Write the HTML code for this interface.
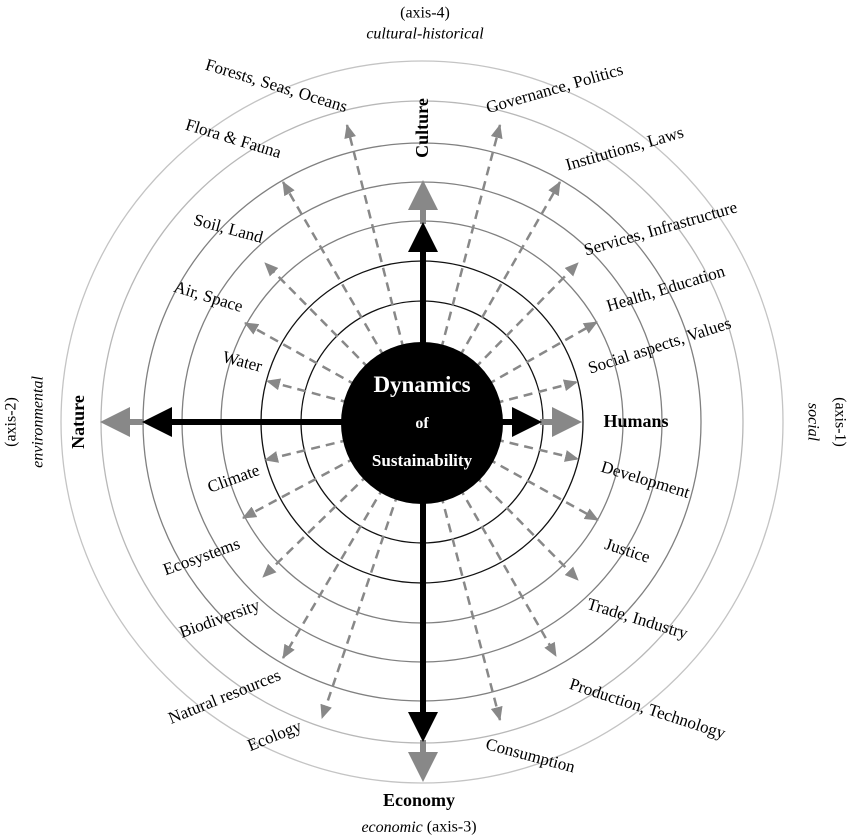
<!DOCTYPE html>
<html><head><meta charset="utf-8"><style>
html,body{margin:0;padding:0;background:#fff;}
svg{display:block;font-family:"Liberation Serif",serif;}
</style></head><body>
<svg width="850" height="840" viewBox="0 0 850 840" xmlns="http://www.w3.org/2000/svg">
<defs>
<marker id="g" markerWidth="14" markerHeight="12" refX="13" refY="6" orient="auto" markerUnits="userSpaceOnUse">
<path d="M0,0 L14,6 L0,12 Z" fill="#888"/>
</marker>
</defs>
<g fill="none" stroke-width="1.3">
<circle cx="422" cy="422" r="361" stroke="#c4c4c4"/>
<circle cx="422" cy="422" r="321" stroke="#b8b8b8"/>
<circle cx="422" cy="422" r="279" stroke="#808080"/>
<circle cx="422" cy="422" r="240" stroke="#808080"/>
<circle cx="422" cy="422" r="201" stroke="#808080"/>
<circle cx="422" cy="422" r="161" stroke="#111"/>
<circle cx="422" cy="422" r="121" stroke="#111"/>
</g>
<g stroke="#888" stroke-width="2.5" stroke-dasharray="9,6" marker-end="url(#g)">
<line x1="422" y1="422" x2="347" y2="125"/>
<line x1="422" y1="422" x2="283" y2="182"/>
<line x1="422" y1="422" x2="265" y2="263"/>
<line x1="422" y1="422" x2="245" y2="323"/>
<line x1="422" y1="422" x2="267" y2="381"/>
<line x1="422" y1="422" x2="500" y2="125"/>
<line x1="422" y1="422" x2="560" y2="182"/>
<line x1="422" y1="422" x2="578" y2="263"/>
<line x1="422" y1="422" x2="597" y2="322"/>
<line x1="422" y1="422" x2="577" y2="382"/>
<line x1="422" y1="422" x2="578" y2="459"/>
<line x1="422" y1="422" x2="598" y2="520"/>
<line x1="422" y1="422" x2="578" y2="580"/>
<line x1="422" y1="422" x2="556" y2="656"/>
<line x1="422" y1="422" x2="500" y2="720"/>
<line x1="422" y1="422" x2="265" y2="460"/>
<line x1="422" y1="422" x2="243" y2="518"/>
<line x1="422" y1="422" x2="263" y2="577"/>
<line x1="422" y1="422" x2="283" y2="658"/>
<line x1="422" y1="422" x2="322" y2="718"/>
</g>
<g>
<rect x="420" y="208" width="6" height="16" fill="#888"/>
<path d="M408,210 L423,180 L438,210 Z" fill="#888"/>
<rect x="420" y="245" width="6" height="180" fill="#000"/>
<path d="M408,252 L423,222 L438,252 Z" fill="#000"/>
<rect x="126" y="419" width="18" height="6" fill="#888"/>
<path d="M130,407 L100,422 L130,437 Z" fill="#888"/>
<rect x="165" y="419" width="260" height="6" fill="#000"/>
<path d="M172,407 L142,422 L172,437 Z" fill="#000"/>
<rect x="540" y="419" width="16" height="6" fill="#888"/>
<path d="M552,407 L582,422 L552,437 Z" fill="#888"/>
<rect x="420" y="419" width="100" height="6" fill="#000"/>
<path d="M512,407 L542,422 L512,437 Z" fill="#000"/>
<rect x="420" y="740" width="6" height="16" fill="#888"/>
<path d="M408,752 L423,782 L438,752 Z" fill="#888"/>
<rect x="420" y="420" width="6" height="296" fill="#000"/>
<path d="M408,712 L423,742 L438,712 Z" fill="#000"/>
</g>
<circle cx="422" cy="423" r="81" fill="#000"/>
<g fill="#fff" font-weight="bold" text-anchor="middle">
<text x="422" y="392" font-size="23">Dynamics</text>
<text x="422" y="428" font-size="16">of</text>
<text x="422" y="466" font-size="17">Sustainability</text>
</g>
<g font-size="17" fill="#000" text-anchor="middle" dominant-baseline="middle">
<text transform="translate(276,87) rotate(17)">Forests, Seas, Oceans</text>
<text transform="translate(233,140) rotate(17)">Flora &amp; Fauna</text>
<text transform="translate(228,230) rotate(15)">Soil, Land</text>
<text transform="translate(208,298) rotate(17)">Air, Space</text>
<text transform="translate(242,363) rotate(15)">Water</text>
<text transform="translate(555,90) rotate(-16)">Governance, Politics</text>
<text transform="translate(625,150) rotate(-16)">Institutions, Laws</text>
<text transform="translate(661,230) rotate(-16)">Services, Infrastructure</text>
<text transform="translate(666,290) rotate(-17)">Health, Education</text>
<text transform="translate(660,347) rotate(-18)">Social aspects, Values</text>
<text transform="translate(645,481) rotate(17)">Development</text>
<text transform="translate(627,552) rotate(18)">Justice</text>
<text transform="translate(637,620) rotate(17)">Trade, Industry</text>
<text transform="translate(647,710) rotate(18)">Production, Technology</text>
<text transform="translate(530,757) rotate(15)">Consumption</text>
<text transform="translate(234,480) rotate(-20)">Climate</text>
<text transform="translate(202,558) rotate(-20)">Ecosystems</text>
<text transform="translate(220,620) rotate(-20)">Biodiversity</text>
<text transform="translate(225,698) rotate(-22)">Natural resources</text>
<text transform="translate(275,737) rotate(-22)">Ecology</text>
</g>
<g font-size="16" text-anchor="middle" dominant-baseline="middle">
<text x="425" y="14">(axis-4)</text>
<text x="425" y="35" font-style="italic">cultural-historical</text>
<text transform="translate(424,128) rotate(-90)" font-weight="bold" font-size="18">Culture</text>
<text transform="translate(80,422) rotate(-90)" font-weight="bold" font-size="18">Nature</text>
<text transform="translate(39,422) rotate(-90)" font-style="italic">environmental</text>
<text transform="translate(12,422) rotate(-90)">(axis-2)</text>
<text x="636" y="423" font-weight="bold" font-size="18">Humans</text>
<text transform="translate(812,422) rotate(90)" font-style="italic">social</text>
<text transform="translate(839,422) rotate(90)">(axis-1)</text>
<text x="419" y="802" font-weight="bold" font-size="18">Economy</text>
<text x="419" y="828"><tspan font-style="italic">economic</tspan> (axis-3)</text>
</g>
</svg>
</body></html>
